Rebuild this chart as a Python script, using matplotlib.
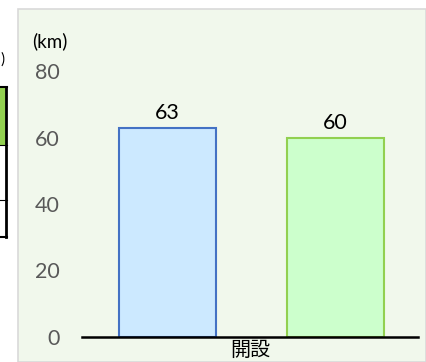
import matplotlib.pyplot as plt
from matplotlib.patches import Rectangle
from matplotlib.lines import Line2D

# data
category = "開設"
series_values = [63, 60]
series_fill = ["#CCE9FF", "#CCFFCC"]
series_edge = ["#4472C4", "#92D050"]
y_ticks = [0, 20, 40, 60, 80]
unit_label = "(km)"

plt.rcParams['font.family'] = ['Lato', 'Noto Sans CJK JP', 'DejaVu Sans']

W, H = 426, 362
fig = plt.figure(figsize=(W / 100, H / 100), dpi=100, facecolor="white")

def fx(px):
    return px / W

def fy(py):
    return 1 - py / H

# chart panel background
fig.patches.append(Rectangle((fx(18), 0), 1 - fx(18), fy(9), transform=fig.transFigure,
                             facecolor="#F1F8EC", edgecolor="#D9D9D9", lw=1.2, zorder=-2))

# partial table at the left edge
fig.patches.append(Rectangle((0, fy(145)), fx(6), fy(87) - fy(145), transform=fig.transFigure,
                             facecolor="#92D050", edgecolor="none", zorder=-1))
for yy in [87, 145, 200, 237]:
    fig.add_artist(Line2D([0, fx(7)], [fy(yy), fy(yy)], transform=fig.transFigure,
                          color="black", lw=1.5 if yy in (87, 237) else 0.8))
fig.add_artist(Line2D([fx(6), fx(6)], [fy(87), fy(237)], transform=fig.transFigure,
                      color="black", lw=2))
fig.text(0, fy(60), ")", fontsize=11, ha="left", va="center")

# axes
ax = fig.add_axes([fx(82), fy(337), fx(418) - fx(82), fy(71) - fy(337)])
ax.set_zorder(2)
ax.patch.set_alpha(0)
positions = [0.2545, 0.7545]
bars = ax.bar(positions, series_values, width=0.289, color=series_fill,
              edgecolor=series_edge, linewidth=1.5, zorder=2)
for b, v in zip(bars, series_values):
    ax.text(b.get_x() + b.get_width() / 2, v + 1.4, str(v), ha="center", va="bottom",
            fontsize=15.5, color="black")

ax.set_xlim(0, 1)
ax.set_ylim(0, 80)
ax.set_yticks(y_ticks)
ax.set_yticklabels([str(t) for t in y_ticks], color="#595959", fontsize=15.5)
ax.set_xticks([0.5])
ax.set_xticklabels([category], fontsize=14.5, color="black")
ax.tick_params(length=0)
ax.tick_params(axis="y", pad=16)
ax.tick_params(axis="x", pad=3)
for s in ["left", "right", "top"]:
    ax.spines[s].set_visible(False)
ax.spines["bottom"].set_color("black")
ax.spines["bottom"].set_linewidth(1.8)
ax.spines["bottom"].set_zorder(3)

fig.text(fx(32), fy(41), unit_label, fontsize=13.5, ha="left", va="center")

fig.savefig("out.png", dpi=100, facecolor="white")
